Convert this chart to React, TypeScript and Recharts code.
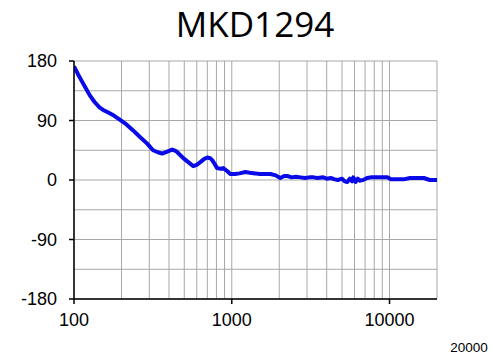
import React from 'react';
import { LineChart, Line, XAxis, YAxis, CartesianGrid } from 'recharts';

const title = 'MKD1294';
const freqs = [100, 106, 113, 120, 126, 135, 145, 153, 165, 180, 196, 215, 237, 262, 291, 317, 340, 362, 390, 419, 440, 452, 493, 530, 570, 600, 632, 670, 700, 730, 752, 780, 808, 850, 884, 930, 980, 1050, 1120, 1220, 1300, 1410, 1500, 1600, 1760, 1900, 2030, 2150, 2250, 2400, 2550, 2730, 2900, 3100, 3300, 3500, 3800, 4000, 4240, 4500, 4700, 5000, 5200, 5400, 5600, 5800, 5900, 6100, 6300, 6500, 6800, 7200, 7600, 8200, 9000, 9700, 10200, 11000, 12300, 13500, 15000, 16500, 18000, 20000];
const phases = [172, 160, 148, 137, 128, 118, 110, 106, 102, 97, 91, 84, 75, 65, 55, 45, 42, 40, 43, 46, 44, 42, 33, 27, 21, 23, 27, 32, 34, 33, 30, 24, 18, 17, 18, 14, 9, 9, 10, 12, 11, 10, 9, 9, 9, 7, 3, 6, 6, 4, 5, 4, 3, 4, 4, 3, 4, 2, 3, 1, 0, 2, -2, -3, 2, -2, 4, -3, 2, -1, 0, 3, 4, 4, 4, 4, 1, 1, 1, 3, 3, 3, 0, 0];
const xGridValues = [100, 200, 300, 400, 500, 600, 700, 800, 900, 1000, 2000, 3000, 4000, 5000, 6000, 7000, 8000, 9000, 10000, 20000];
const xLabelValues = [100, 1000, 10000];
const yGridValues = [-180, -135, -90, -45, 0, 45, 90, 135, 180];
const yLabelValues = [-180, -90, 0, 90, 180];

const data = freqs.map((f, i) => ({ f, p: phases[i] }));

const XTick = (props: any) => {
  const { x, y, payload } = props;
  const v = payload.value;
  if (v === 20000) {
    return (
      <text x={x + 32} y={y + 53} textAnchor="middle" fontSize={13.5} fill="#000" fontFamily="'Liberation Sans', Arial, sans-serif">
        20000
      </text>
    );
  }
  if (!xLabelValues.includes(v)) return <g />;
  return (
    <g>
      <line x1={x} x2={x} y1={y} y2={y + 5} stroke="#000" strokeWidth={1.5} />
      <text x={x} y={y + 27} textAnchor="middle" fontSize={18} fill="#000" fontFamily="'Liberation Sans', Arial, sans-serif">
        {String(v)}
      </text>
    </g>
  );
};

const YTick = (props: any) => {
  const { x, y, payload } = props;
  const v = payload.value;
  if (!yLabelValues.includes(v)) return <g />;
  return (
    <g>
      <line x1={x - 5} x2={x} y1={y} y2={y} stroke="#000" strokeWidth={1.5} />
      <text x={x - 17} y={y + 6} textAnchor="end" fontSize={18} fill="#000" fontFamily="'Liberation Sans', Arial, sans-serif">
        {String(v)}
      </text>
    </g>
  );
};

export default function App() {
  return (
    <div style={{ position: 'absolute', left: 0, top: 0, width: 493, height: 358, background: '#fff' }}>
      <div
        style={{
          position: 'absolute',
          left: 0,
          top: 0,
          width: 510,
          textAlign: 'center',
          fontFamily: "'Open Sans', sans-serif",
          fontSize: 35,
          lineHeight: '48px',
          color: '#000',
        }}
      >
        {title}
      </div>
      <LineChart width={493} height={358} data={data} margin={{ top: 61, right: 56, bottom: 29, left: 0 }}>
        <CartesianGrid stroke="#a8a8a8" strokeWidth={1} />
        <XAxis
          dataKey="f"
          type="number"
          scale="log"
          domain={[100, 20000]}
          ticks={xGridValues}
          interval={0}
          tick={<XTick />}
          tickSize={0}
          tickMargin={0}
          tickLine={false}
          height={30}
          axisLine={{ stroke: '#000', strokeWidth: 1.5 }}
          allowDataOverflow
        />
        <YAxis
          type="number"
          domain={[-180, 180]}
          ticks={yGridValues}
          interval={0}
          tick={<YTick />}
          tickSize={0}
          tickMargin={0}
          tickLine={false}
          width={74}
          axisLine={{ stroke: '#000', strokeWidth: 1.5 }}
          allowDataOverflow
        />
        <Line
          dataKey="p"
          type="linear"
          stroke="#0a0ae8"
          strokeWidth={4}
          dot={false}
          isAnimationActive={false}
          strokeLinejoin="round"
        />
      </LineChart>
    </div>
  );
}
